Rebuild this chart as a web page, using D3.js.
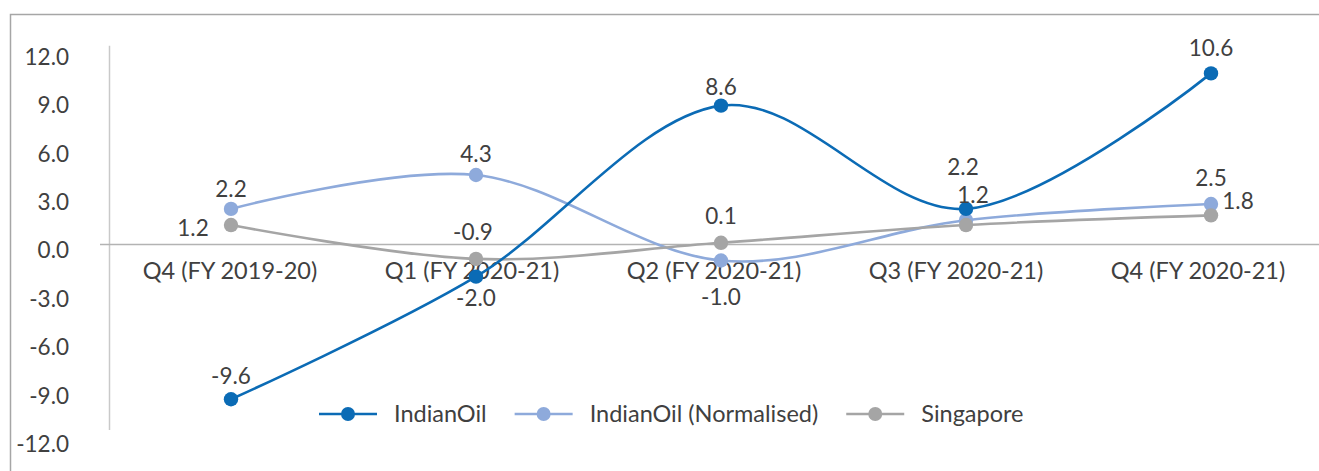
<!DOCTYPE html>
<html>
<head>
<meta charset="utf-8">
<script src="https://cdn.jsdelivr.net/npm/d3@7"></script>
<style>
  html, body { margin: 0; padding: 0; background: #ffffff; }
  svg { display: block; }
  text { font-family: Lato, "Open Sans", sans-serif; fill: #404040; }
</style>
</head>
<body>
<svg id="chart" width="1319" height="471"></svg>
<script>
// Quarter labels along the category axis
const quarters = ["Q4 (FY 2019-20)", "Q1 (FY 2020-21)", "Q2 (FY 2020-21)", "Q3 (FY 2020-21)", "Q4 (FY 2020-21)"];

// Series values per quarter
const indianOil = [-9.6, -2.0, 8.6, 2.2, 10.6];
const indianOilNormalised = [2.2, 4.3, -1.0, 1.5, 2.5];
const singapore = [1.2, -0.9, 0.1, 1.2, 1.8];

// Which points carry a value label
const indianOilShown = [true, true, true, true, true];
const normalisedShown = [true, true, true, false, true];
const singaporeShown = [true, true, true, true, true];

// Value axis ticks
const yTicks = [-12, -9, -6, -3, 0, 3, 6, 9, 12];

// Label placement relative to each point (dx, dy of the label centre)
const indianOilLabelPos = [[0, -23], [0, 21], [0, -19], [-3, -42], [0, -25]];
const normalisedLabelPos = [[0, -20], [0, -21], [0, 36], [0, 0], [0, -26]];
const singaporeLabelPos = [[-38, 3], [-3, -27], [0, -27], [7, -30], [27, -14]];

const series = [
  { name: "IndianOil (Normalised)", values: indianOilNormalised, shown: normalisedShown, pos: normalisedLabelPos, color: "#8eaadb", order: 1 },
  { name: "Singapore", values: singapore, shown: singaporeShown, pos: singaporeLabelPos, color: "#a5a5a5", order: 2 },
  { name: "IndianOil", values: indianOil, shown: indianOilShown, pos: indianOilLabelPos, color: "#0b6bb5", order: 0 }
];

// Plain hyphen for negative numbers
const fmt = d3.formatLocale({ decimal: ".", thousands: ",", grouping: [3], currency: ["", ""], minus: "-" }).format(".1f");

const svg = d3.select("#chart");

// Outer frame
svg.append("rect")
  .attr("x", 10.5).attr("y", 14.5)
  .attr("width", 1400).attr("height", 500)
  .attr("fill", "none")
  .attr("stroke", "#a6a6a6")
  .attr("stroke-width", 1.5);

const y = d3.scaleLinear().domain([-12, 12]).range([438, 50.8]);
const xBand = d3.scaleBand().domain(quarters).range([109, 1319]);
const xPoint = d3.scalePoint().domain(quarters).range([231, 1211]);

// Value axis line
svg.append("line")
  .attr("x1", 109.5).attr("x2", 109.5)
  .attr("y1", y(12) - 5).attr("y2", y(-12) - 8)
  .attr("stroke", "#c9c9c9").attr("stroke-width", 1.5);

// Value axis tick labels
svg.append("g").selectAll("text")
  .data(yTicks)
  .join("text")
  .attr("x", 69)
  .attr("y", d => y(d) + 14)
  .attr("text-anchor", "end")
  .attr("font-size", 22.5)
  .text(d => fmt(d));

// Zero line
svg.append("line")
  .attr("x1", 100).attr("x2", 1319)
  .attr("y1", y(0)).attr("y2", y(0))
  .attr("stroke", "#b3b3b3").attr("stroke-width", 1.5);

// Category labels below the zero line
svg.append("g").selectAll("text")
  .data(quarters)
  .join("text")
  .attr("x", d => xBand(d) + xBand.bandwidth() / 2)
  .attr("y", y(0) + 35)
  .attr("text-anchor", "middle")
  .attr("font-size", 23.5)
  .text(d => d);

const line = d3.line()
  .x((d, i) => xPoint(quarters[i]))
  .y(d => y(d))
  .curve(d3.curveCardinal.tension(0));

const plot = svg.append("g");

series.forEach(s => {
  plot.append("path")
    .attr("d", line(s.values))
    .attr("fill", "none")
    .attr("stroke", s.color)
    .attr("stroke-width", 2.6);
});

series.forEach(s => {
  plot.append("g").selectAll("circle")
    .data(s.values)
    .join("circle")
    .attr("cx", (d, i) => xPoint(quarters[i]))
    .attr("cy", d => y(d))
    .attr("r", 7.2)
    .attr("fill", s.color);
});

// Value labels
series.forEach(s => {
  plot.append("g").selectAll("text")
    .data(s.values.map((v, i) => ({ v, i })).filter(d => s.shown[d.i]))
    .join("text")
    .attr("x", d => xPoint(quarters[d.i]) + s.pos[d.i][0])
    .attr("y", d => y(d.v) + s.pos[d.i][1] + 8)
    .attr("text-anchor", "middle")
    .attr("font-size", 22.5)
    .text(d => fmt(d.v));
});

// Legend
const legend = svg.append("g");
const legendItems = series.slice().sort((a, b) => a.order - b.order);
let lx = 319;
const ly = 414;
legendItems.forEach(s => {
  const g = legend.append("g");
  g.append("line")
    .attr("x1", lx).attr("x2", lx + 58)
    .attr("y1", ly).attr("y2", ly)
    .attr("stroke", s.color).attr("stroke-width", 2.6);
  g.append("circle")
    .attr("cx", lx + 29).attr("cy", ly)
    .attr("r", 7).attr("fill", s.color);
  const t = g.append("text")
    .attr("x", lx + 75).attr("y", ly + 8)
    .attr("font-size", 23.5)
    .text(s.name);
  lx += 75 + t.node().getComputedTextLength() + 28;
});
</script>
</body>
</html>
